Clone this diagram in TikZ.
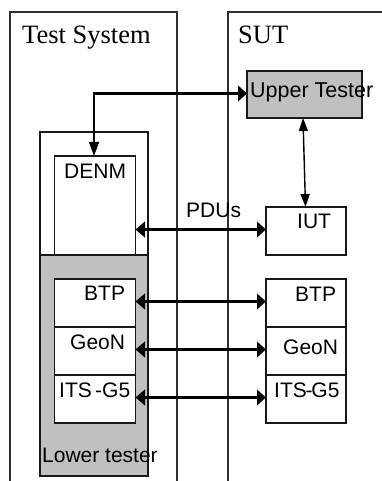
\documentclass[tikz,border=0pt]{standalone}
\usepackage{fontspec}
\setmainfont{Liberation Sans}
\newfontfamily\serifface{Liberation Serif}
\usetikzlibrary{arrows.meta,calc}
\definecolor{framegray}{HTML}{303030}
\definecolor{fillgray}{HTML}{C0C0C0}
\tikzset{
  frameline/.style={draw=framegray,line width=1.1pt},
  boxed/.style={draw=black!90,line width=1.2pt,inner sep=0pt,outer sep=0pt,anchor=north west},
  shaded/.style={boxed,fill=fillgray},
  plainwhite/.style={boxed,fill=white},
  lab/.style={font=\fontsize{21}{21}\selectfont,inner sep=0pt,anchor=base west},
  title/.style={font=\serifface\fontsize{26.5}{26.5}\selectfont,inner sep=0pt,anchor=base west},
  link/.style={line width=2.4pt,{Triangle[length=9.5pt,width=15.5pt]}-{Triangle[length=9pt,width=15.5pt]}},
  thinlink/.style={line width=1.4pt,{Triangle[length=13pt,width=9pt]}-{Triangle[length=13pt,width=9pt]}}
}
\newcommand{\bx}[6]{\node[#1,minimum width=#4pt,minimum height=#5pt] (#6) at (#2,#3) {};}
\begin{document}
\begin{tikzpicture}[x=1pt,y=-1pt]
\useasboundingbox (0,0) rectangle (382,481);
\fill[white] (0,0) rectangle (382,481);
% frames
\coordinate (tsa) at (10,481);
\coordinate (tsb) at (10,12);
\coordinate (tsc) at (177,12);
\coordinate (tsd) at (177,481);
\coordinate (sa) at (228,481);
\coordinate (sb) at (228,12);
\coordinate (sc) at (382,12);
\draw[frameline] (tsa) -- (tsb) -- (tsc) -- (tsd);
\draw[frameline] (sa) -- (sb) -- (sc);
% test system boxes
\bx{boxed}{40}{132}{108}{194}{outer}
\bx{plainwhite}{54.5}{156}{81}{99}{denm}
\bx{shaded}{40}{255}{108}{221}{lower}
\draw[line width=1.2pt,black!90] (outer.south west) -- (outer.west) (outer.south east) -- (outer.east);
\bx{plainwhite}{54.5}{279}{81}{48}{btpl}
\bx{plainwhite}{54.5}{327}{81}{48}{geol}
\bx{plainwhite}{54.5}{375}{81}{48}{itsl}
% SUT boxes
\bx{shaded}{247}{71}{115}{47}{upper}
\bx{plainwhite}{266}{207}{80}{48}{iut}
\bx{plainwhite}{266}{279}{80}{48}{btpr}
\bx{plainwhite}{266}{327}{80}{48}{geor}
\bx{plainwhite}{266}{375}{80}{48}{itsr}
% labels
\node[title] (tstitle) at (22,44) {Test System};
\node[title] (suttitle) at (238,44) {SUT};
\node[lab,font=\fontsize{21.5}{21.5}\selectfont] (lupper) at (250,98) {Upper Tester};
\node[lab] (ldenm) at (64,178) {DENM};
\node[lab] (lpdus) at (186,217) {PDUs};
\node[lab] (liut) at (297,228) {IUT};
\node[lab] (lbtpl) at (84,300.5) {BTP};
\node[lab] (lgeol) at (70,349) {GeoN};
\node[lab] (litsl) at (59,397) {ITS};
\node[lab] (litsl2) at (95,397) {-G5};
\node[lab] (llower) at (42,462) {Lower tester};
\node[lab] (lbtpr) at (295,301) {BTP};
\node[lab] (lgeor) at (283,354) {GeoN};
\node[lab] (litsr) at (274,397) {ITS\kern-1.2pt-\kern-1.2pt G5};
% connectors
\coordinate (corner) at ($(denm.north)+(-1,-62.5)$);
\draw[line width=2.4pt,-{Triangle[length=9pt,width=15.5pt]}] ([xshift=-1pt]corner) -- (corner -| upper.west);
\draw[line width=1.1pt,-{Triangle[length=14pt,width=10pt]}] (corner) -- (corner |- denm.north);
\draw[thinlink] ([xshift=-1.5pt]upper.south) -- ([xshift=-0.5pt]iut.north);
\draw[link] ([yshift=1.5pt]iut.west -| denm.east) -- ([yshift=1.5pt]iut.west);
\draw[link] ([yshift=1.5pt]btpl.east) -- ([yshift=1.5pt]btpr.west);
\draw[link] ([yshift=1.5pt]geol.east) -- ([yshift=1.5pt]geor.west);
\draw[link] ([yshift=1.5pt]itsl.east) -- ([yshift=1.5pt]itsr.west);
\end{tikzpicture}
\end{document}
